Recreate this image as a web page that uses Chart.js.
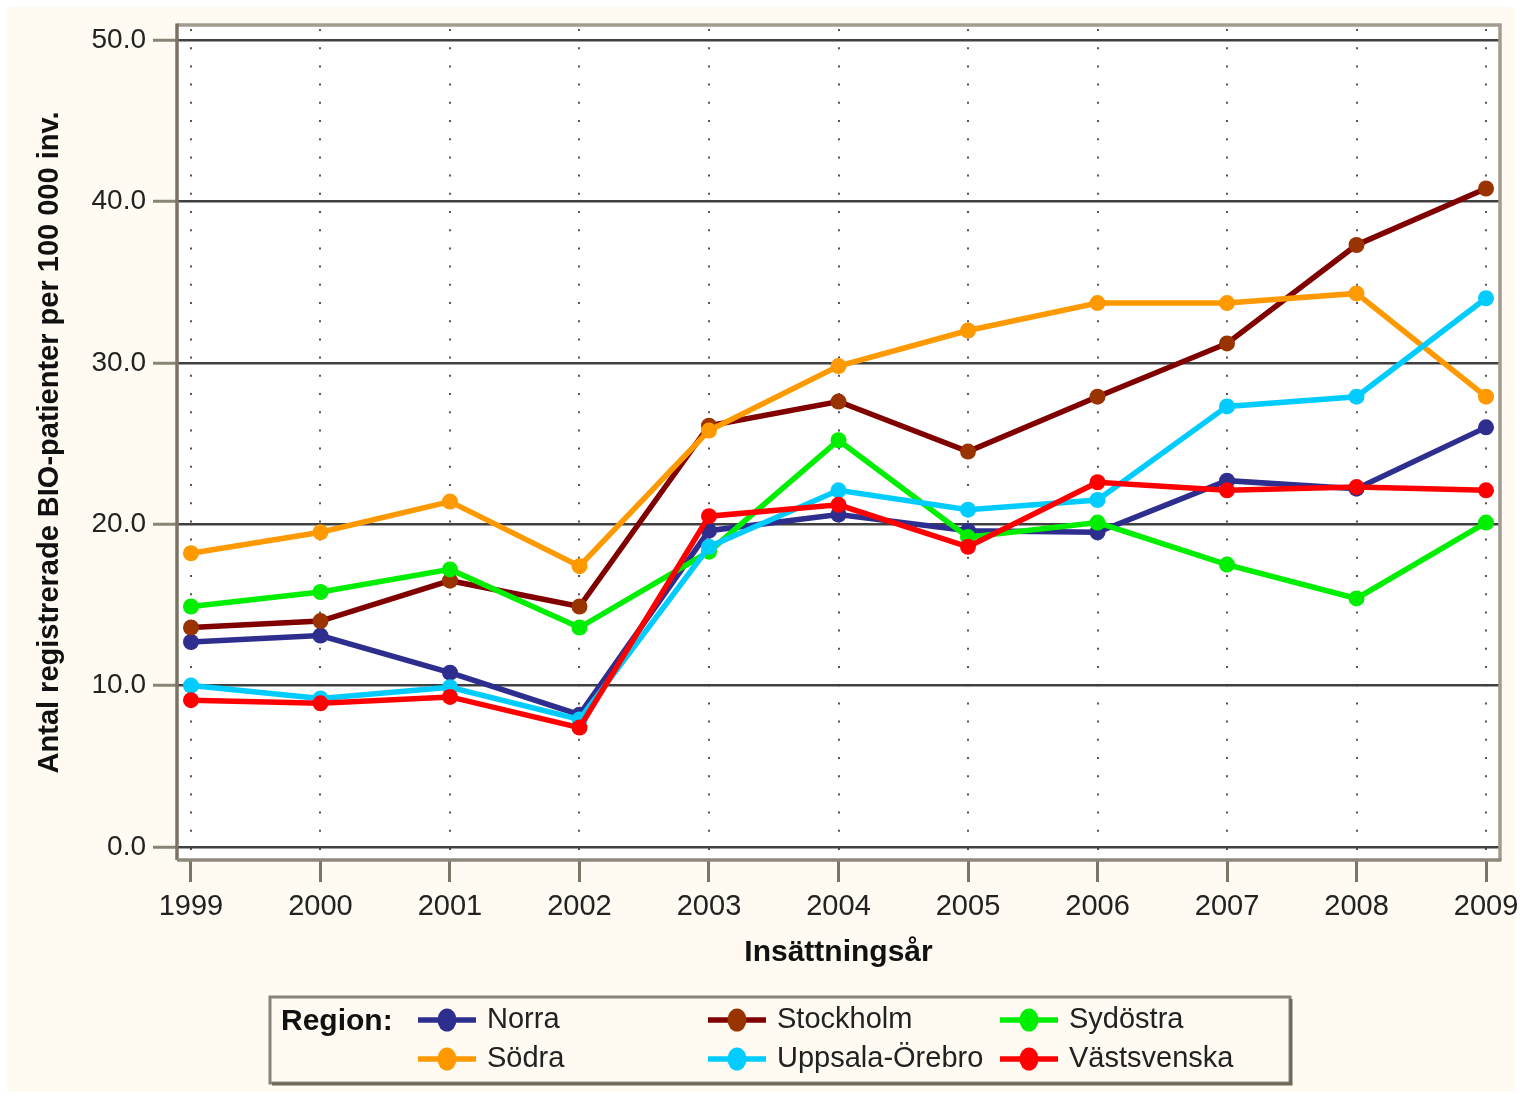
<!DOCTYPE html>
<html>
<head>
<meta charset="utf-8">
<script src="https://cdn.jsdelivr.net/npm/chart.js@4/dist/chart.umd.min.js"></script>
<style>
html,body{margin:0;padding:0;background:#ffffff;}
#wrap{width:1520px;height:1096px;position:relative;}
canvas{display:block;}
</style>
</head>
<body>
<div id="wrap"><canvas id="c" width="1520" height="1096"></canvas></div>
<script>
// ---- data ----
const years = [1999, 2000, 2001, 2002, 2003, 2004, 2005, 2006, 2007, 2008, 2009];
const yTicks = [0, 10, 20, 30, 40, 50];
const seriesNames = ['Norra', 'Stockholm', 'Sydöstra', 'Södra', 'Uppsala-Örebro', 'Västsvenska'];
const norra      = [12.7, 13.1, 10.8, 8.2, 19.6, 20.6, 19.6, 19.5, 22.7, 22.2, 26.0];
const stockholm  = [13.6, 14.0, 16.5, 14.9, 26.1, 27.6, 24.5, 27.9, 31.2, 37.3, 40.8];
const sydostra   = [14.9, 15.8, 17.2, 13.6, 18.3, 25.2, 19.2, 20.1, 17.5, 15.4, 20.1];
const sodra      = [18.2, 19.5, 21.4, 17.4, 25.8, 29.8, 32.0, 33.7, 33.7, 34.3, 27.9];
const uppsala    = [10.0, 9.2, 9.9, 7.9, 18.6, 22.1, 20.9, 21.5, 27.3, 27.9, 34.0];
const vastsvenska= [9.1, 8.9, 9.3, 7.4, 20.5, 21.2, 18.6, 22.6, 22.1, 22.3, 22.1];
const xTitle = 'Insättningsår';
const yTitle = 'Antal registrerade BIO-patienter per 100 000 inv.';
const legendTitle = 'Region:';

const seriesValues = [norra, stockholm, sydostra, sodra, uppsala, vastsvenska];
const lineColors  = ['#2e2e8f', '#800000', '#00ee00', '#ff9900', '#00ccff', '#ff0000'];
const pointColors = ['#2e2e8f', '#993300', '#00ee00', '#ff9900', '#00ccff', '#ff0000'];

const FONT = '"Liberation Sans", Arial, sans-serif';

const datasets = seriesNames.map((name, i) => ({
  label: name,
  data: years.map((yr, j) => ({x: yr, y: seriesValues[i][j]})),
  borderColor: lineColors[i],
  backgroundColor: pointColors[i],
  pointBackgroundColor: pointColors[i],
  pointBorderColor: pointColors[i],
  pointRadius: 8,
  pointBorderWidth: 0,
  borderWidth: 5.5,
  tension: 0,
  order: seriesNames.length - i
}));

const bgPlugin = {
  id: 'bg',
  beforeDraw(chart) {
    const {ctx, chartArea: a} = chart;
    ctx.save();
    ctx.fillStyle = '#ffffff';
    ctx.fillRect(0, 0, chart.width, chart.height);
    ctx.fillStyle = '#fffbf2';
    ctx.fillRect(7, 7, chart.width - 12, chart.height - 11);
    ctx.fillStyle = '#ffffff';
    ctx.fillRect(a.left, a.top, a.right - a.left, a.bottom - a.top);
    // dotted vertical grid lines at each year tick
    const xs = chart.scales.x;
    ctx.strokeStyle = '#555555';
    ctx.lineWidth = 2;
    ctx.setLineDash([2, 16.2]);
    xs.ticks.forEach(t => {
      const px = Math.round(xs.getPixelForValue(t.value));
      ctx.beginPath();
      ctx.moveTo(px, a.top + 4);
      ctx.lineTo(px, a.bottom);
      ctx.stroke();
    });
    ctx.restore();
  },
  beforeDatasetsDraw(chart) {
    const {ctx, chartArea: a} = chart;
    ctx.save();
    ctx.lineWidth = 3.5;
    ctx.strokeStyle = '#a29c90';
    ctx.beginPath();
    ctx.moveTo(a.left, a.top); ctx.lineTo(a.right, a.top); ctx.lineTo(a.right, a.bottom);
    ctx.stroke();
    ctx.strokeStyle = '#7a7363';
    ctx.beginPath();
    ctx.moveTo(a.left, a.top - 1.5); ctx.lineTo(a.left, a.bottom);
    ctx.stroke();
    ctx.strokeStyle = '#8e887c';
    ctx.beginPath();
    ctx.moveTo(a.left, a.bottom); ctx.lineTo(a.right + 1.5, a.bottom);
    ctx.stroke();
    ctx.restore();
  },
  afterDraw(chart) {
    const ctx = chart.ctx;
    const bx = 270, by = 997, bw = 1020, bh = 86;
    ctx.save();
    ctx.lineWidth = 3;
    ctx.strokeStyle = '#8a8478';
    ctx.strokeRect(bx, by, bw, bh);
    ctx.strokeStyle = '#6f6858';
    ctx.beginPath();
    ctx.moveTo(bx + 2, by + bh + 1); ctx.lineTo(bx + bw + 1, by + bh + 1); ctx.lineTo(bx + bw + 1, by + 2);
    ctx.stroke();
    ctx.fillStyle = '#111';
    ctx.textBaseline = 'middle';
    ctx.textAlign = 'left';
    ctx.font = 'bold 30px ' + FONT;
    ctx.fillText(legendTitle, 281, 1022);
    const cxs = [447, 737, 1029], cys = [1020, 1059];
    chart.data.datasets.forEach((ds, i) => {
      const cx = cxs[i % 3], cy = cys[Math.floor(i / 3)];
      ctx.strokeStyle = ds.borderColor;
      ctx.lineWidth = 5.5;
      ctx.beginPath();
      ctx.moveTo(cx - 29, cy); ctx.lineTo(cx + 29, cy);
      ctx.stroke();
      ctx.fillStyle = ds.pointBackgroundColor;
      ctx.beginPath();
      ctx.ellipse(cx, cy, 9.5, 11.5, 0, 0, Math.PI * 2);
      ctx.fill();
      ctx.fillStyle = '#222';
      ctx.font = '29px ' + FONT;
      ctx.fillText(ds.label, cx + 40, cy);
    });
    ctx.restore();
  }
};

new Chart(document.getElementById('c'), {
  type: 'line',
  data: {datasets},
  options: {
    responsive: false,
    devicePixelRatio: 1,
    animation: false,
    layout: {padding: {left: 0, top: 25, right: 20, bottom: 0}},
    plugins: {legend: {display: false}, tooltip: {enabled: false}},
    scales: {
      x: {
        type: 'linear',
        min: 1998.892,
        max: 2009.108,
        afterBuildTicks(scale) { scale.ticks = years.map(v => ({value: v})); },
        afterFit(scale) { scale.height = 236; scale.paddingLeft = 0; scale.paddingRight = 0; },
        border: {display: false},
        grid: {
          drawOnChartArea: false,
          color: '#7b7565',
          lineWidth: 3,
          tickColor: '#7b7565',
          tickWidth: 3,
          tickLength: 22
        },
        ticks: {
          color: '#222',
          font: {family: FONT, size: 29},
          padding: 8,
          maxRotation: 0,
          autoSkip: false,
          callback: v => String(v)
        },
        title: {
          display: true,
          text: xTitle,
          color: '#111',
          font: {family: FONT, size: 30, weight: 'bold'},
          padding: {top: 0, bottom: 125}
        }
      },
      y: {
        type: 'linear',
        min: -0.805,
        max: 50.93,
        afterBuildTicks(scale) { scale.ticks = yTicks.map(v => ({value: v})); },
        afterFit(scale) { scale.width = 177; scale.paddingTop = 0; scale.paddingBottom = 0; },
        border: {display: false},
        grid: {
          color: '#404040',
          lineWidth: 2.5,
          tickColor: '#8a8474',
          tickWidth: 3,
          tickLength: 24
        },
        ticks: {
          color: '#222',
          font: {family: FONT, size: 28},
          padding: 7,
          callback: v => Number(v).toFixed(1)
        },
        title: {
          display: true,
          text: yTitle,
          color: '#111',
          font: {family: FONT, size: 29, weight: 'bold'},
          padding: {top: 33, bottom: 0}
        }
      }
    }
  },
  plugins: [bgPlugin]
});
</script>
</body>
</html>
